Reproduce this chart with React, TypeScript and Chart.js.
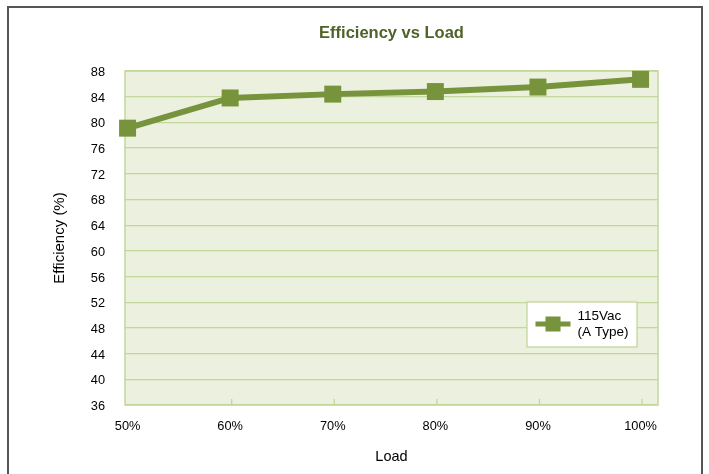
import React, { useEffect, useRef } from "react";
import { Chart, registerables } from "chart.js";

Chart.register(...registerables);

// ---- data ----
const loadValues = [50, 60, 70, 80, 90, 100];
const loadLabels = ["50%", "60%", "70%", "80%", "90%", "100%"];
const efficiency115Vac = [79.1, 83.8, 84.4, 84.8, 85.5, 86.7];
const seriesLabelLines = ["115Vac", "(A Type)"];
const yMin = 36;
const yMax = 88;
const yStep = 4;

const FONT = "'Liberation Sans', Arial, Helvetica, sans-serif";
const GREEN = "#77933C";
const GRID = "#C3D69B";
const PLOT_BG = "#EBF1DE";

const plotFramePlugin = {
  id: "plotFrame",
  beforeDraw(chart: any) {
    const { ctx, chartArea: a } = chart;
    ctx.save();
    ctx.fillStyle = PLOT_BG;
    ctx.fillRect(a.left, a.top, a.right - a.left, a.bottom - a.top);
    ctx.restore();
  },
  beforeDatasetsDraw(chart: any) {
    const { ctx, chartArea: a } = chart;
    const xs = chart.scales.x;
    ctx.save();
    ctx.strokeStyle = GRID;
    ctx.lineWidth = 1.3;
    // small inward tick marks on the category axis
    loadValues.forEach((v, i) => {
      if (i === 0) return;
      const px = xs.getPixelForValue(v) + 1.5;
      ctx.beginPath();
      ctx.moveTo(px, a.bottom);
      ctx.lineTo(px, a.bottom - 6);
      ctx.stroke();
    });
    ctx.lineWidth = 1.5;
    ctx.strokeRect(a.left, a.top, a.right - a.left, a.bottom - a.top);
    ctx.restore();
  },
  afterDraw(chart: any) {
    const { ctx, chartArea: a } = chart;
    const ds = chart.data.datasets[0];
    const bx = a.right - 131;
    const by = a.top + 231;
    const bw = 110;
    const bh = 45;
    ctx.save();
    ctx.fillStyle = "#FFFFFF";
    ctx.fillRect(bx, by, bw, bh);
    ctx.strokeStyle = GRID;
    ctx.lineWidth = 1.3;
    ctx.strokeRect(bx, by, bw, bh);
    // symbol
    const sy = by + 22;
    ctx.strokeStyle = ds.borderColor;
    ctx.lineWidth = 5;
    ctx.beginPath();
    ctx.moveTo(bx + 8.5, sy);
    ctx.lineTo(bx + 43.5, sy);
    ctx.stroke();
    ctx.fillStyle = ds.pointBackgroundColor;
    ctx.fillRect(bx + 18.5, sy - 7.5, 15, 15);
    // text
    ctx.fillStyle = "#000";
    ctx.font = `13.5px ${FONT}`;
    ctx.textAlign = "left";
    ctx.textBaseline = "middle";
    seriesLabelLines.forEach((line, i) => {
      ctx.fillText(line, bx + 50.5, by + 14 + i * 16.5);
    });
    ctx.restore();
  },
};

export default function App() {
  const canvasRef = useRef<HTMLCanvasElement | null>(null);

  useEffect(() => {
    if (!canvasRef.current) return;
    const chart = new Chart(canvasRef.current, {
      type: "line",
      data: {
        datasets: [
          {
            label: seriesLabelLines.join(" "),
            data: loadValues.map((x, i) => ({ x, y: efficiency115Vac[i] })),
            borderColor: GREEN,
            backgroundColor: GREEN,
            borderWidth: 6,
            pointStyle: "rect",
            pointRadius: 12,
            pointHoverRadius: 12,
            pointBackgroundColor: GREEN,
            pointBorderWidth: 0,
            tension: 0,
            clip: false as any,
          },
        ],
      },
      plugins: [plotFramePlugin],
      options: {
        responsive: false,
        animation: false,
        devicePixelRatio: 1,
        layout: { padding: { left: 0, right: 51, top: 0, bottom: 0 } },
        plugins: {
          legend: { display: false },
          tooltip: { enabled: false },
          title: {
            display: true,
            text: "Efficiency vs Load",
            fullSize: false,
            color: "#4F6228",
            font: { family: FONT, size: 16.5, weight: "bold", lineHeight: 1.2 },
            padding: { top: 23.2, bottom: 28 },
          },
        },
        scales: {
          x: {
            type: "linear",
            min: 49.75,
            max: 101.7,
            afterBuildTicks: (scale: any) => {
              scale.ticks = loadValues.map((v) => ({ value: v }));
            },
            afterFit: (scale: any) => {
              scale.height = 69;
            },
            grid: { display: false, drawTicks: false },
            border: { display: false },
            ticks: {
              autoSkip: false,
              maxRotation: 0,
              padding: 13.5,
              color: "#000",
              font: { family: FONT, size: 12.8 },
              callback: (v: any) => loadLabels[loadValues.indexOf(Number(v))] ?? "",
            },
            title: {
              display: true,
              text: "Load",
              color: "#000",
              font: { family: FONT, size: 14.5, lineHeight: 1.2 },
              padding: { top: 0, bottom: 8.5 },
            },
          },
          y: {
            type: "linear",
            min: yMin,
            max: yMax,
            afterFit: (scale: any) => {
              scale.width = 125;
            },
            grid: { color: GRID, lineWidth: 1.3, drawTicks: false },
            border: { display: false },
            ticks: {
              stepSize: yStep,
              padding: 20,
              labelOffset: 1.5,
              color: "#000",
              font: { family: FONT, size: 12.8 },
            },
            title: {
              display: true,
              text: "Efficiency (%)",
              color: "#000",
              font: { family: FONT, size: 15, lineHeight: 1.2 },
              padding: { top: 51, bottom: 0 },
            },
          },
        },
      },
    } as any);
    return () => chart.destroy();
  }, []);

  return (
    <div
      style={{
        position: "fixed",
        left: 0,
        top: 0,
        width: 709,
        height: 474,
        background: "#fff",
        overflow: "hidden",
      }}
    >
      <canvas ref={canvasRef} width={709} height={474} style={{ width: 709, height: 474, display: "block" }} />
      <div
        style={{
          position: "absolute",
          left: 7,
          top: 5.5,
          width: 696,
          height: 520,
          boxSizing: "border-box",
          borderTop: "2px solid #555",
          borderLeft: "2px solid #555",
          borderRight: "2px solid #555",
          pointerEvents: "none",
        }}
      />
    </div>
  );
}
